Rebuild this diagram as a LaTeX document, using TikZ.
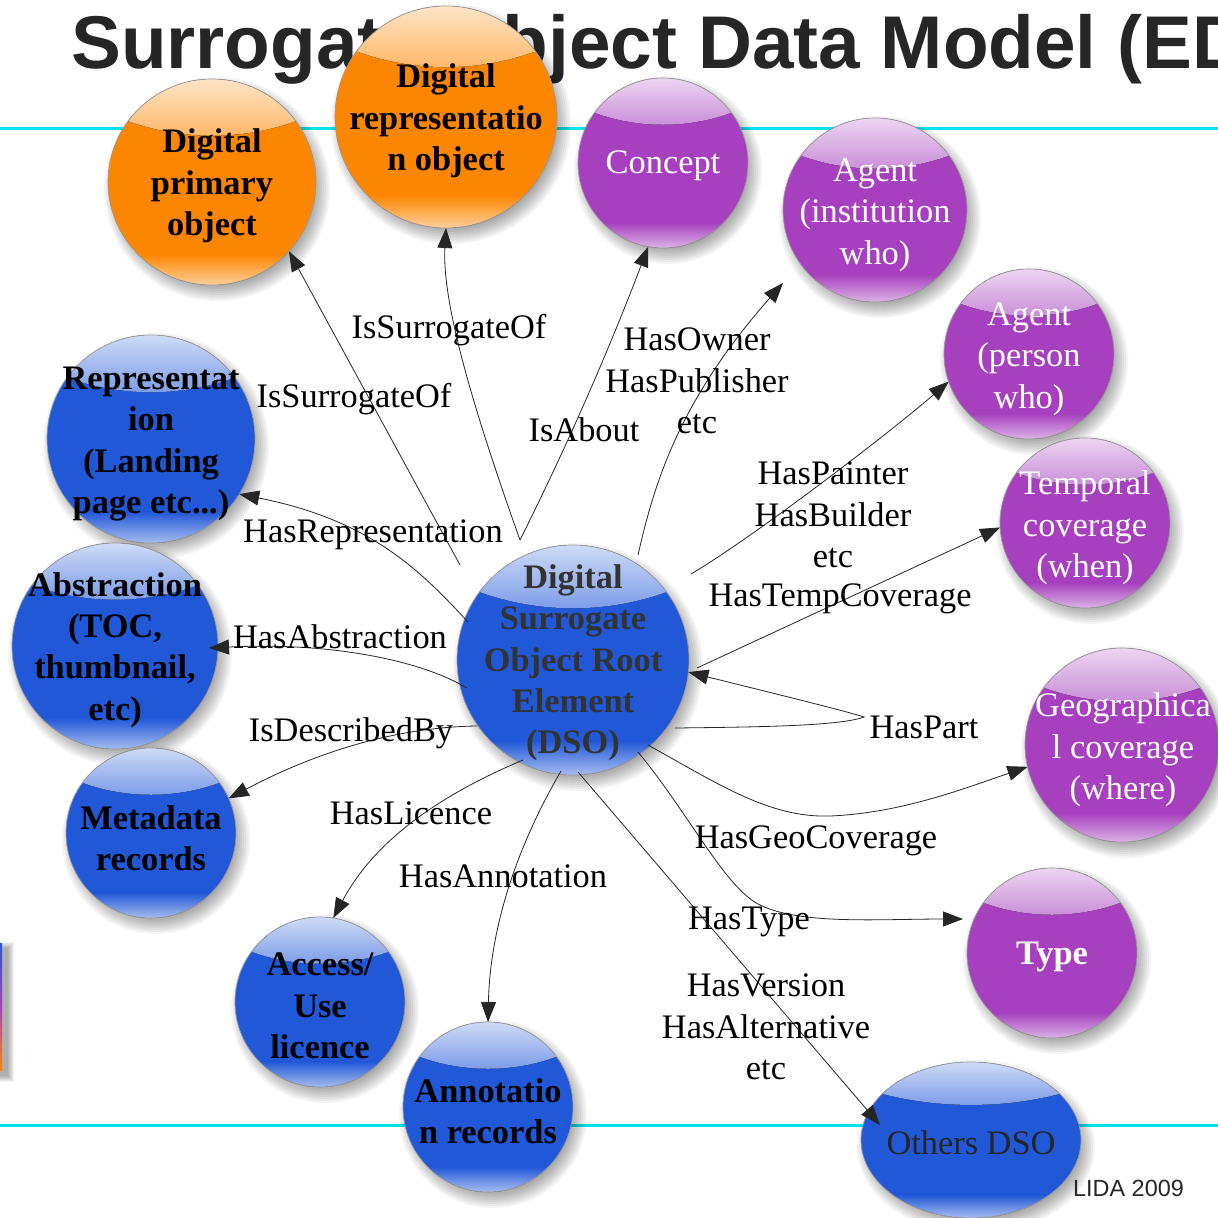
\documentclass[tikz,border=0pt]{standalone}
\usepackage{fontspec}
\setmainfont{Liberation Serif}
\newfontfamily\titlefont{Liberation Sans}
\usetikzlibrary{arrows.meta,shapes.geometric}
\definecolor{orng}{RGB}{253,134,0}
\definecolor{purp}{RGB}{166,64,190}
\definecolor{blu}{RGB}{33,88,216}
\definecolor{cyanline}{RGB}{0,228,240}
\definecolor{txtdark}{RGB}{38,38,38}
\definecolor{dsotext}{RGB}{51,51,51}
\newcommand\ball[6]{%
  \foreach \k in {0,...,8}{%
    \fill[black, opacity=0.045] ({#2+5},{#3+7}) ellipse [x radius={#4+9-2*\k}, y radius={#5+9-2*\k}];
  }
  \fill[#6] (#2,#3) ellipse [x radius=#4, y radius=#5];
  \begin{scope}
    \clip (#2,#3) ellipse [x radius=#4, y radius=#5];
    \begin{scope}
      \clip (#2,{#3-2.806*#5}) ellipse [x radius={2.356*#4}, y radius={2.356*#5}];
      \fill[top color=#6!22!white, bottom color=#6!62!white] ({#2-#4},{#3-#5}) rectangle ({#2+#4},{#3-0.4*#5});
    \end{scope}
    \fill[top color=#6, bottom color=#6!40!white] ({#2-#4},{#3+0.7*#5}) rectangle ({#2+#4},{#3+#5});
  \end{scope}
  \draw[black!40, line width=0.7bp] (#2,#3) ellipse [x radius=#4, y radius=#5];
  \node[ellipse, minimum width={2*#4*1bp}, minimum height={2*#5*1bp}, inner sep=0pt, outer sep=0pt] (#1) at (#2,#3) {};
}
\tikzset{
  btxt/.style={font=\bfseries\fontsize{34.5}{41.5}\selectfont, align=center, inner sep=0pt, text=black, yshift=-3bp},
  wtxt/.style={font=\fontsize{34.5}{41.5}\selectfont, align=center, inner sep=0pt, text=white, yshift=-3bp},
  lbl/.style={font=\fontsize{34.5}{41.5}\selectfont, align=center, inner sep=0pt, text=black, yshift=-3bp},
  conn/.style={draw=black!85, line width=0.8bp, -{Triangle[length=20bp,width=15bp]}},
}
\begin{document}
\begin{tikzpicture}[x=1bp,y=-1bp]
\useasboundingbox (0,0) rectangle (1218,1218);
\clip (0,0) rectangle (1218,1218);
\fill[white] (0,0) rectangle (1218,1218);
% guide lines
\draw[cyanline, line width=3bp] (0,128) -- (1218,128);
\draw[cyanline, line width=3bp] (0,1125) -- (1218,1125);
% left edge strip
\foreach \k in {0,...,6}{\fill[black, opacity=0.05] (-6,{948-\k}) rectangle ({8+\k},{1076+\k});}
\fill[top color=blu, bottom color=orng, middle color=purp] (-6,943) rectangle (2,1070);
% title
\node[anchor=base west, inner sep=0pt, font=\titlefont\bfseries\fontsize{75}{80}\selectfont, text=txtdark] (title) at (71,68) {Surrogate Object Data Model (ED};
% spheres
\ball{dpo}{212}{182}{104}{103}{orng}
\ball{dro}{446}{117}{111}{111}{orng}
\ball{concept}{663}{163}{85}{85}{purp}
\ball{agi}{875}{210}{92}{92}{purp}
\ball{agp}{1029}{354}{85}{85}{purp}
\ball{temp}{1085}{523}{85}{85}{purp}
\ball{geo}{1122}{745}{97}{97}{purp}
\ball{type}{1052}{953}{85}{85}{purp}
\ball{others}{971}{1140}{110}{78}{blu}
\ball{repr}{151}{439}{104}{104}{blu}
\ball{abst}{115}{646}{103}{103}{blu}
\ball{meta}{151}{833}{85}{85}{blu}
\ball{lic}{320}{1002}{85}{85}{blu}
\ball{annot}{488}{1107}{85}{85}{blu}
\ball{dso}{573}{660}{116}{115}{blu}
% sphere texts
\node[btxt] (dpo-t) at (212,183) {Digital\\primary\\object};
\node[btxt] (dro-t) at (446,118) {Digital\\representatio\\n object};
\node[wtxt] (concept-t) at (663,163) {Concept};
\node[wtxt] (agi-t) at (875,212) {Agent\\(institution\\who)};
\node[wtxt] (agp-t) at (1029,356) {Agent\\(person\\who)};
\node[wtxt] (temp-t) at (1085,525) {Temporal\\coverage\\(when)};
\node[wtxt] (geo-t) at (1123,747) {Geographica\\l coverage\\(where)};
\node[wtxt, font=\bfseries\fontsize{34.5}{41.5}\selectfont] (type-t) at (1052,954) {Type};
\node[lbl, text=txtdark] (others-t) at (971,1140) {Others DSO};
\node[btxt, text=dsotext] (dso-t) at (573,660) {Digital\\Surrogate\\Object Root\\Element\\(DSO)};
\node[btxt] (repr-t) at (151,441) {Representat\\ion\\(Landing\\page etc...)};
\node[btxt] (abst-t) at (115,647) {Abstraction\\(TOC,\\thumbnail,\\etc)};
\node[btxt] (meta-t) at (151,835) {Metadata\\records};
\node[btxt] (lic-t) at (320,1003) {Access/\\Use\\licence};
\node[btxt] (annot-t) at (488,1108) {Annotatio\\n records};
% connector ports
\coordinate (pA) at (460,565);
\coordinate (pV) at (520,540);
\coordinate (pD) at (638,555);
\coordinate (pE) at (691,574);
\coordinate (pF) at (697,668);
\coordinate (pG) at (675,728);
\coordinate (pGt) at (864,717);
\coordinate (pH) at (648,745);
\coordinate (pI) at (638,752);
\coordinate (pJ) at (578,772);
\coordinate (pK) at (561,771);
\coordinate (pL) at (523,760);
\coordinate (pM) at (477,726);
\coordinate (pN) at (467,688);
\coordinate (pO) at (468,622);
\coordinate (tD) at (783,283);
\coordinate (tI) at (963,919);
\coordinate (tJ) at (880,1125);
\coordinate (tN) at (209,648);
% connectors
\draw[conn] (pA) -- (dpo.-42);
\draw[conn] (pV) .. controls (470,400) and (442,300) .. (dro.-90);
\draw[conn] (pV) .. controls (570,440) and (610,347) .. (concept.-100);
\draw[conn] (pD) .. controls (655,480) and (680,400) .. (tD);
\draw[conn] (pE) .. controls (752,538) and (887,435) .. (agp.-161);
\draw[conn] (pF) -- (temp.-177);
\draw[conn] (pG) .. controls (760,727) and (840,726) .. (pGt) .. controls (850,712) and (760,690) .. (dso.-6);
\draw[conn] (pH) .. controls (720,785) and (770,818) .. (830,816) .. controls (900,813) and (960,790) .. (geo.-167.5);
\draw[conn] (pI) .. controls (690,815) and (725,888) .. (760,905) .. controls (801,925) and (880,919) .. (tI);
\draw[conn] (pJ) -- (tJ);
\draw[conn] (pK) .. controls (515,850) and (490,930) .. (annot.north);
\draw[conn] (pL) .. controls (440,795) and (375,840) .. (lic.81);
\draw[conn] (pM) .. controls (400,727) and (320,750) .. (meta.24);
\draw[conn] (pN) .. controls (420,660) and (330,642) .. (tN);
\draw[conn] (pO) .. controls (420,570) and (370,520) .. (repr.-32);
% labels
\node[lbl] (l1) at (449,327) {IsSurrogateOf};
\node[lbl] (l2) at (354,396) {IsSurrogateOf};
\node[lbl] (l3) at (584,427) {IsAbout};
\node[lbl] (l4) at (697,378) {HasOwner\\HasPublisher\\etc};
\node[lbl] (l5) at (833,512) {HasPainter\\HasBuilder\\etc};
\node[lbl] (l6) at (840,596) {HasTempCoverage};
\node[lbl] (l7) at (373,532) {HasRepresentation};
\node[lbl] (l8) at (340,634) {HasAbstraction};
\node[lbl] (l9) at (351,730) {IsDescribedBy};
\node[lbl] (l10) at (411,810) {HasLicence};
\node[lbl] (l11) at (503,873) {HasAnnotation};
\node[lbl] (l12) at (924,724) {HasPart};
\node[lbl] (l13) at (816,838) {HasGeoCoverage};
\node[lbl] (l14) at (749,919) {HasType};
\node[lbl] (l15) at (766,1024) {HasVersion\\HasAlternative\\etc};
\node[anchor=base west, inner sep=0pt, font=\titlefont\fontsize{23.5}{26}\selectfont, text=txtdark] (lida) at (1073,1196) {LIDA 2009};
\end{tikzpicture}
\end{document}
